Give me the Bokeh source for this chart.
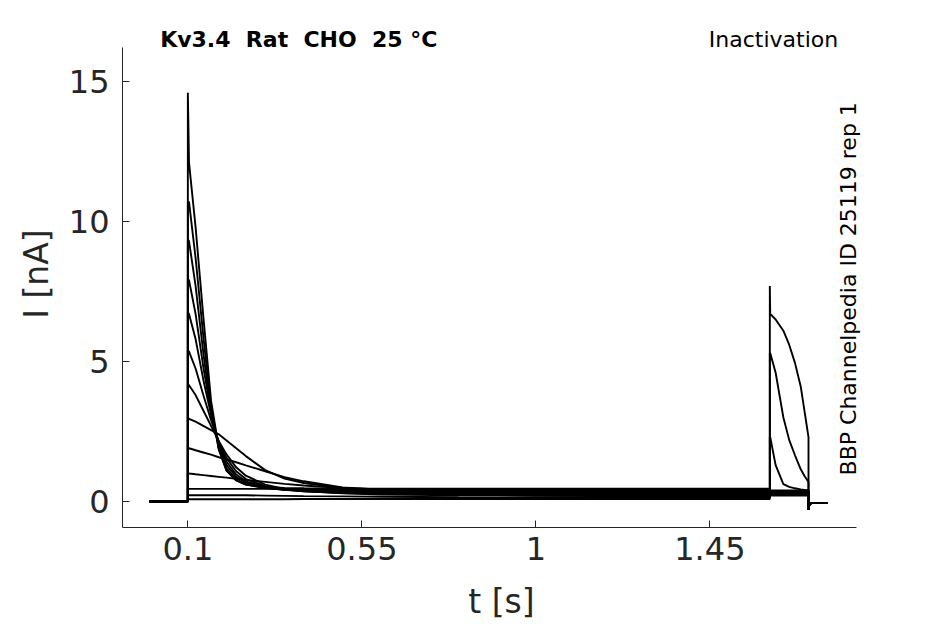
from bokeh.plotting import figure
from bokeh.models import Range1d, FixedTicker, Label
from bokeh.embed import file_html
from bokeh.resources import INLINE

# ---------------- data ----------------
hold_t = [0.0, 0.1]
hold_I = [0.0, 0.0]

pre_t = [0.1, 0.103, 0.12, 0.14, 0.16, 0.18, 0.2, 0.225, 0.25, 0.3, 0.35, 0.4,
         0.5, 0.6, 0.8, 1.0, 1.3, 1.605]
pre_A = [14.6, 12.1, 9.8, 6.6, 3.6, 1.9, 1.1, 0.75, 0.6, 0.52, 0.48, 0.47, 0.46, 0.46, 0.46, 0.46, 0.46, 0.46]
pre_B = [10.7, 10.7, 8.7, 5.9, 3.4, 1.85, 1.1, 0.76, 0.6, 0.48, 0.44, 0.43, 0.42, 0.42, 0.42, 0.42, 0.42, 0.42]
pre_C = [9.35, 9.3, 7.7, 5.3, 3.25, 1.9, 1.18, 0.8, 0.62, 0.48, 0.42, 0.4, 0.38, 0.38, 0.38, 0.38, 0.38, 0.38]
pre_D = [7.95, 7.9, 6.7, 4.8, 3.2, 2.0, 1.3, 0.88, 0.67, 0.5, 0.42, 0.38, 0.35, 0.34, 0.34, 0.34, 0.34, 0.34]
pre_E = [6.75, 6.7, 5.8, 4.35, 3.1, 2.1, 1.42, 0.96, 0.72, 0.52, 0.42, 0.36, 0.32, 0.3, 0.3, 0.3, 0.3, 0.3]
pre_F = [5.4, 5.35, 4.75, 3.8, 2.9, 2.15, 1.55, 1.08, 0.8, 0.55, 0.43, 0.36, 0.3, 0.27, 0.26, 0.26, 0.26, 0.26]
pre_G = [4.2, 4.15, 3.8, 3.25, 2.7, 2.15, 1.68, 1.22, 0.92, 0.6, 0.45, 0.37, 0.29, 0.25, 0.22, 0.22, 0.22, 0.22]
pre_H = [3.0, 2.95, 2.85, 2.7, 2.55, 2.4, 2.18, 1.9, 1.62, 1.12, 0.82, 0.66, 0.48, 0.38, 0.26, 0.2, 0.18, 0.18]
pre_I = [1.92, 1.9, 1.83, 1.75, 1.67, 1.58, 1.5, 1.4, 1.29, 1.08, 0.87, 0.72, 0.5, 0.42, 0.35, 0.33, 0.32, 0.32]
pre_J = [1.02, 1.0, 0.97, 0.94, 0.91, 0.88, 0.85, 0.81, 0.77, 0.7, 0.63, 0.57, 0.48, 0.43, 0.41, 0.4, 0.4, 0.4]
pre_K = [0.46, 0.45, 0.45, 0.45, 0.45, 0.45, 0.45, 0.45, 0.45, 0.45, 0.45, 0.45, 0.44, 0.44, 0.44, 0.44, 0.44, 0.44]
pre_L = [0.22, 0.22, 0.22, 0.22, 0.22, 0.22, 0.22, 0.22, 0.22, 0.21, 0.2, 0.19, 0.18, 0.17, 0.15, 0.14, 0.14, 0.14]
pre_M = [0.08, 0.08, 0.08, 0.08, 0.08, 0.08, 0.08, 0.08, 0.08, 0.08, 0.08, 0.09, 0.09, 0.09, 0.09, 0.09, 0.09, 0.09]

test_t = [1.605, 1.606, 1.62, 1.64, 1.655, 1.67, 1.685, 1.695, 1.705]
test_K = [2.3, 2.3, 1.3, 0.62, 0.52, 0.47, 0.43, 0.41, 0.4]
test_L = [5.3, 5.3, 4.6, 3.0, 2.2, 1.65, 1.15, 0.9, 0.7]
test_M = [7.7, 6.7, 6.5, 6.1, 5.6, 4.95, 4.1, 3.2, 2.3]
# steady test-pulse level of the fully inactivated traces A..J
test_level = [0.39, 0.37, 0.35, 0.33, 0.31, 0.29, 0.27, 0.25, 0.23, 0.21]

post_t = [1.705, 1.707, 1.712, 1.755]
post_I = [-0.3, -0.12, -0.06, -0.06]

x_ticks = [0.1, 0.55, 1.0, 1.45]
x_tick_labels = ["0.1", "0.55", "1", "1.45"]
y_ticks = [0, 5, 10, 15]

# double spaces kept visible in SVG with a no-break space before each space
title_text = "Kv3.4\u00a0 Rat\u00a0 CHO\u00a0 25 °C"
protocol_text = "Inactivation"
source_text = "BBP Channelpedia ID 25119 rep 1"

# ---------------- build traces ----------------
pre_list = [pre_A, pre_B, pre_C, pre_D, pre_E, pre_F, pre_G, pre_H, pre_I, pre_J,
            pre_K, pre_L, pre_M]
test_list = [[lv] * len(test_t) for lv in test_level] + [test_K, test_L, test_M]

xs, ys = [], []
for pre, tst in zip(pre_list, test_list):
    xs.append(hold_t + pre_t + test_t + post_t)
    ys.append(hold_I + pre + tst + post_I)

# ---------------- figure ----------------
FONT = "DejaVu Sans"
AX = "#262626"

# the visible axes span x in [-0.069, 1.828] and y in [-0.93, 16.22];
# the frame is a bit larger so that the annotation texts are not clipped
p = figure(width=945, height=624, output_backend="svg", toolbar_location=None,
           x_range=Range1d(-0.069, 1.8912), y_range=Range1d(-0.93, 17.18),
           min_border_left=122, min_border_right=65, min_border_top=20,
           min_border_bottom=97)
p.outline_line_color = None
p.xgrid.visible = False
p.ygrid.visible = False
p.background_fill_color = "white"
p.border_fill_color = "white"

p.multi_line(xs, ys, line_color="black", line_width=1.9)

for ax in (p.xaxis[0], p.yaxis[0]):
    ax.axis_line_color = AX
    ax.axis_line_width = 1
    ax.major_tick_line_color = AX
    ax.major_tick_in = 7
    ax.major_tick_out = 0
    ax.minor_tick_line_color = None
    ax.major_label_text_font = FONT
    ax.major_label_text_font_size = "32px"
    ax.major_label_text_color = AX
    ax.axis_label_text_font = FONT
    ax.axis_label_text_font_size = "33px"
    ax.axis_label_text_font_style = "normal"
    ax.axis_label_text_color = AX

p.xaxis.bounds = (-0.069, 1.828)
p.xaxis.ticker = FixedTicker(ticks=x_ticks)
p.xaxis.major_label_overrides = {t: s for t, s in zip(x_ticks, x_tick_labels)}
p.xaxis.axis_label = "t [s]"
p.xaxis.major_label_standoff = 9
p.xaxis.axis_label_standoff = 19

p.yaxis.bounds = (-0.93, 16.22)
p.yaxis.ticker = FixedTicker(ticks=y_ticks)
p.yaxis.axis_label = "I [nA]"
p.yaxis.major_label_standoff = 13
p.yaxis.axis_label_standoff = 10

p.add_layout(Label(x=0.0284, y=16.5, text=title_text, text_font=FONT,
                   text_font_size="22px", text_font_style="bold",
                   text_color="black", text_baseline="alphabetic",
                   text_align="left"))
p.add_layout(Label(x=1.7817, y=16.5, text=protocol_text, text_font=FONT,
                   text_font_size="22px", text_color="black",
                   text_baseline="alphabetic", text_align="right"))
p.add_layout(Label(x=1.808, y=0.93, text=source_text, text_font=FONT,
                   text_font_size="22px", text_color="black", angle=1.5707963,
                   text_baseline="alphabetic", text_align="left"))

open("out.html", "w").write(file_html(p, INLINE))
